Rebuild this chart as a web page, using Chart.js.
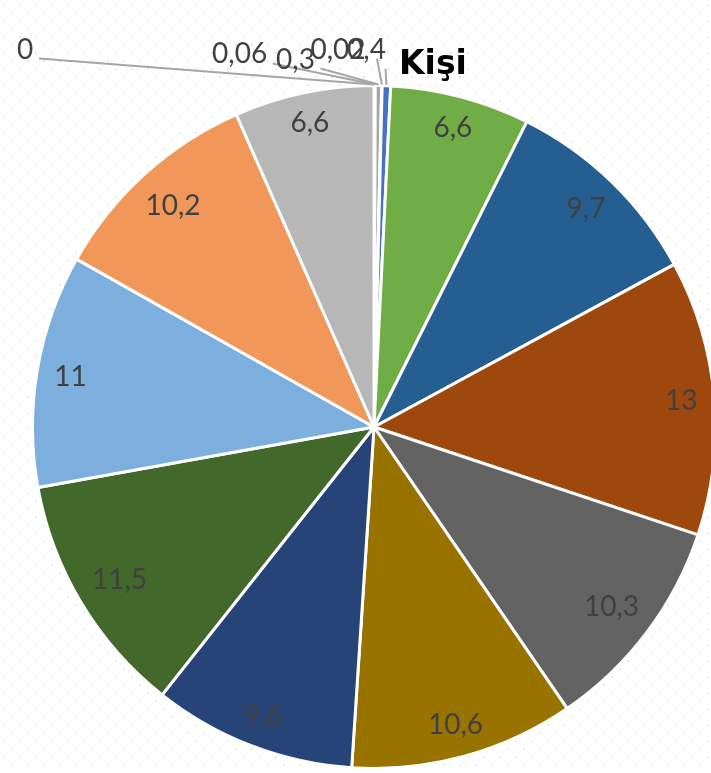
<!DOCTYPE html>
<html lang="tr">
<head>
<meta charset="utf-8">
<title>Kişi</title>
<script src="https://cdn.jsdelivr.net/npm/chart.js@4.4.1/dist/chart.umd.min.js"></script>
<style>
  html, body { margin: 0; padding: 0; background: #fff; overflow: hidden; }
  #wrap { position: relative; width: 711px; height: 773px; overflow: hidden; }
  canvas { position: absolute; left: 0; top: 0; }
</style>
</head>
<body>
<div id="wrap"><canvas id="pieChart" width="748" height="773"></canvas></div>
<script>
// Kişi - pie chart (Excel style, labels inside end, callouts for the tiny slices)

const TITLE = "Kişi";
const valueLabels = ["0", "0,06", "0,3", "0,02", "0,4", "6,6", "9,7", "13", "10,3", "10,6", "9,6", "11,5", "11", "10,2", "6,6"];
const values = [0, 0.06, 0.3, 0.02, 0.4, 6.6, 9.7, 13, 10.3, 10.6, 9.6, 11.5, 11, 10.2, 6.6];
const sliceColors = [
  "#4472C4", "#ED7D31", "#A5A5A5", "#FFC000", "#4472C4",
  "#70AD47", "#255E91", "#9E480E", "#636363", "#997300",
  "#264478", "#43682B", "#7CAFDD", "#F1975A", "#B7B7B7",
];

// callouts for tiny slices: text centre and leader start, offset from the slice's outer edge
const CALLOUTS = {
  0: { text: [-349, -37], from: [-335, -27] },
  1: { text: [-135, -33], from: [-102, -22] },
  2: { text: [-83, -27], from: [-58, -17] },
  3: { text: [-44, -37], from: [-5, -27] },
  4: { text: [-20, -37], from: [-1, -17] },
};

const LABEL_FONT = "28px Lato";
const LABEL_COLOR = "#404040";
const DIGIT_HALF = 10;   // half the height of the digits
const EDGE_GAP = 16;     // gap between label box and the rim

// faint staggered dot grid behind everything
const dotGrid = {
  id: "dotGrid",
  beforeDraw(chart) {
    const ctx = chart.ctx;
    ctx.save();
    ctx.fillStyle = "#fff";
    ctx.fillRect(0, 0, chart.width, chart.height);
    ctx.fillStyle = "#e8e8e8";
    for (let y = 5, row = 0; y < chart.height; y += 8, row++) {
      for (let x = row % 2 ? 12 : 4; x < chart.width; x += 16) {
        ctx.fillRect(x - 1, y - 1, 2, 2);
      }
    }
    ctx.restore();
  },
};

// distance from the centre so the label box just fits inside the rim ("inside end")
function insideEndDistance(ux, uy, hw, hh, R) {
  const k = Math.abs(ux) * hw + Math.abs(uy) * hh;
  return -k + Math.sqrt(k * k - (hw * hw + hh * hh - R * R));
}

const sliceLabels = {
  id: "sliceLabels",
  afterDatasetsDraw(chart) {
    const ctx = chart.ctx;
    const arcs = chart.getDatasetMeta(0).data;
    ctx.save();
    ctx.font = LABEL_FONT;
    ctx.fillStyle = LABEL_COLOR;
    ctx.textAlign = "center";
    ctx.textBaseline = "alphabetic";
    arcs.forEach((arc, i) => {
      const { x, y, startAngle, endAngle, outerRadius } =
        arc.getProps(["x", "y", "startAngle", "endAngle", "outerRadius"], true);
      const mid = (startAngle + endAngle) / 2;
      const cos = Math.cos(mid);
      const sin = Math.sin(mid);
      const c = CALLOUTS[i];
      if (c) {
        const ex = x + cos * outerRadius;
        const ey = y + sin * outerRadius;
        ctx.strokeStyle = "#a6a6a6";
        ctx.lineWidth = 2;
        ctx.beginPath();
        ctx.moveTo(ex + c.from[0], ey + c.from[1]);
        ctx.lineTo(ex, ey - 1);
        ctx.stroke();
        ctx.fillText(valueLabels[i], ex + c.text[0], ey + c.text[1] + DIGIT_HALF);
      } else {
        const hw = ctx.measureText(valueLabels[i]).width / 2;
        const d = insideEndDistance(cos, sin, hw, DIGIT_HALF, outerRadius - EDGE_GAP);
        ctx.fillText(valueLabels[i], x + cos * d, y + sin * d + DIGIT_HALF);
      }
    });

    // title sits just right of the top of the pie
    ctx.font = "bold 33px 'DejaVu Sans'";
    ctx.fillStyle = "#000";
    ctx.textAlign = "left";
    ctx.fillText(TITLE, 399, 74);
    ctx.restore();
  },
};

new Chart(document.getElementById("pieChart"), {
  type: "pie",
  data: {
    labels: valueLabels,
    datasets: [{
      data: values,
      backgroundColor: sliceColors,
      borderColor: "#ffffff",
      borderWidth: 3,
    }],
  },
  options: {
    responsive: false,
    animation: false,
    devicePixelRatio: 1,
    layout: { padding: { left: 31, right: 31, top: 84, bottom: 3 } },
    plugins: {
      legend: { display: false },
      title: { display: false },
      tooltip: { enabled: false },
    },
  },
  plugins: [dotGrid, sliceLabels],
});
</script>
</body>
</html>
